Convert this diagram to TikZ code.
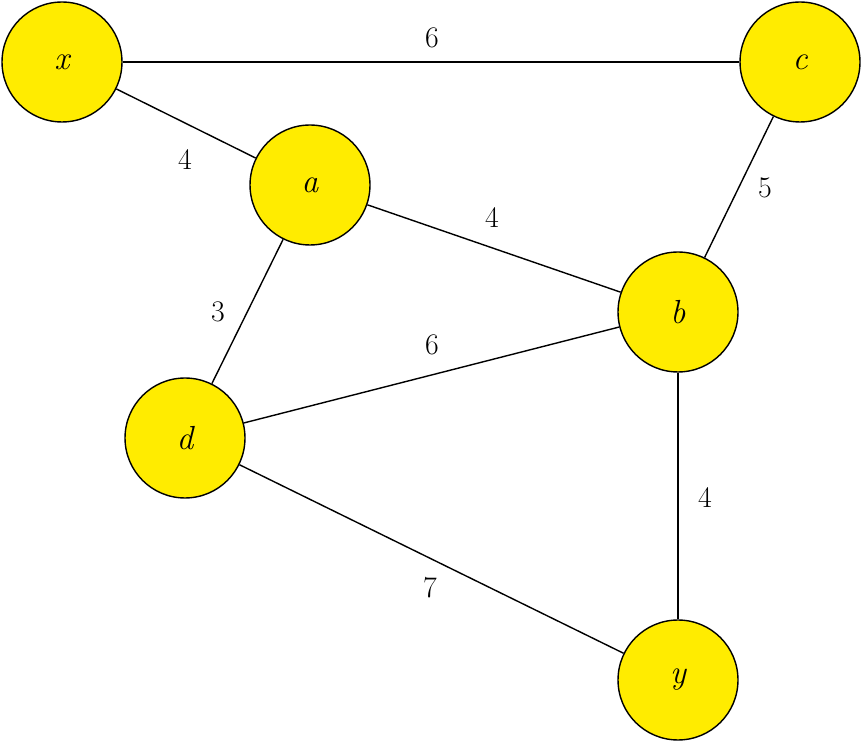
\documentclass[tikz,border=0pt]{standalone}
\begin{document}
\begin{tikzpicture}[x=0.02cm,y=-0.02cm,
  vtx/.style={circle,draw=black,line width=0.8pt,fill={rgb,255:red,255;green,236;blue,0},minimum size=2.4cm,inner sep=0pt,font=\fontsize{19}{22}\selectfont\itshape},
  wt/.style={font=\fontsize{17}{20}\selectfont},
  edge/.style={line width=0.8pt}]
\useasboundingbox (0,0) rectangle (865,742);
\node[vtx] (x) at (62,62) {x};
\node[vtx] (c) at (800,62) {c};
\node[vtx] (a) at (310,185) {a};
\node[vtx] (b) at (678,312) {b};
\node[vtx] (d) at (185,438) {d};
\node[vtx] (y) at (678,680) {y};
\draw[edge] (x) -- (c);
\draw[edge] (x) -- (a);
\draw[edge] (a) -- (b);
\draw[edge] (c) -- (b);
\draw[edge] (a) -- (d);
\draw[edge] (d) -- (b);
\draw[edge] (b) -- (y);
\draw[edge] (d) -- (y);
\node[wt] (l1) at (432,38) {6};
\node[wt] (l2) at (185,160) {4};
\node[wt] (l3) at (492,218) {4};
\node[wt] (l4) at (765,188) {5};
\node[wt] (l5) at (218,312) {3};
\node[wt] (l6) at (432,345) {6};
\node[wt] (l7) at (705,498) {4};
\node[wt] (l8) at (430,588) {7};
\end{tikzpicture}
\end{document}
